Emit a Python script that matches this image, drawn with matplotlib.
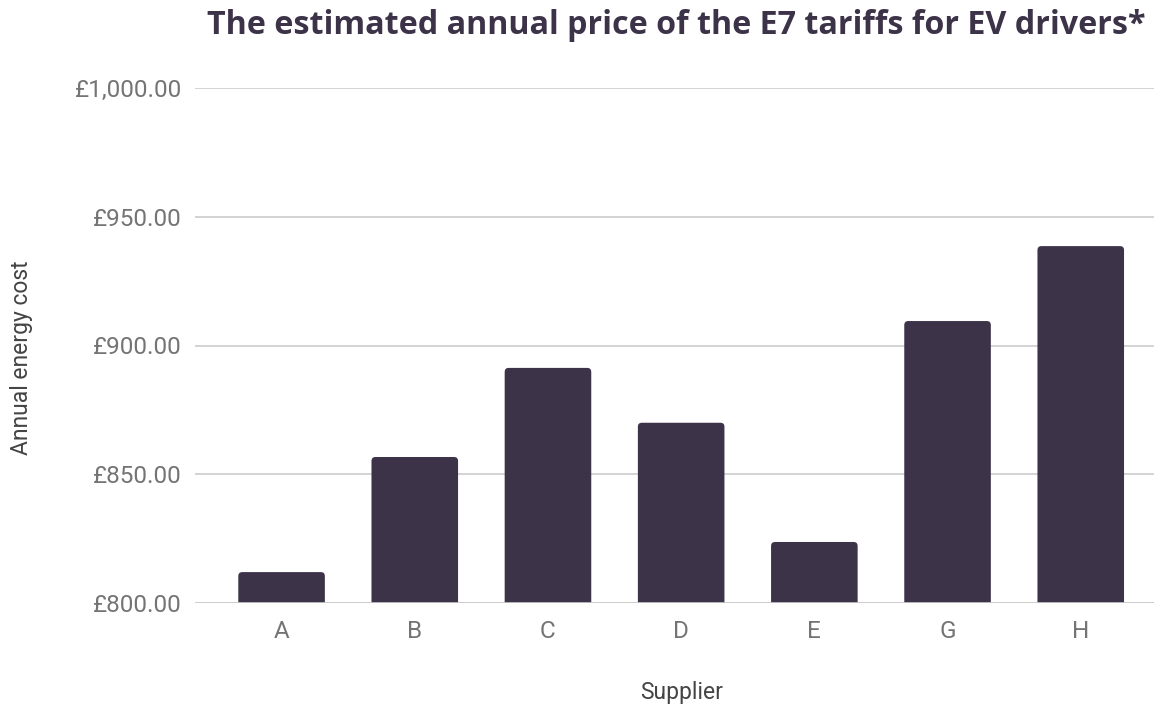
import matplotlib
matplotlib.use("Agg")
import matplotlib.pyplot as plt
from matplotlib.ticker import FuncFormatter
from matplotlib.patches import FancyBboxPatch

suppliers = ["A", "B", "C", "D", "E", "G", "H"]
annual_cost = [812.0, 856.7, 891.3, 870.0, 823.7, 909.5, 938.6]
y_ticks = [800, 850, 900, 950, 1000]

bar_color = "#3d3349"
grid_color = "#cccccc"
text_gray = "#747474"

fig = plt.figure(figsize=(11.54, 7.04), dpi=100)
W, H = 1154, 704
left, right, top, bottom = 195, 1154, 88, 603
ax = fig.add_axes([left / W, 1 - bottom / H, (right - left) / W, (bottom - top) / H])

ymin, ymax = 800, 1000
xmin, xmax = -0.65, 6.55
bars = ax.bar(range(len(suppliers)), annual_cost, width=0.65, color=bar_color, zorder=3)
# replace plain rectangles with top-rounded versions
px_x = (xmax - xmin) / (right - left)
px_y = (ymax - ymin) / (bottom - top)
for b in bars:
    x0, w, h_top = b.get_x(), b.get_width(), b.get_y() + b.get_height()
    b.set_visible(False)
    base = ymin - 20
    p = FancyBboxPatch((x0, base), w, h_top - base,
                       boxstyle=f"round,pad=0,rounding_size={4 * px_x}",
                       mutation_aspect=px_y / px_x,
                       facecolor=bar_color, edgecolor="none", zorder=3)
    ax.add_patch(p)

ax.set_ylim(ymin, ymax)
ax.set_xlim(xmin, xmax)
ax.set_yticks(y_ticks)
ax.yaxis.set_major_formatter(FuncFormatter(lambda v, p: f"£{v:,.2f}"))
ax.set_xticks(range(len(suppliers)))
ax.set_xticklabels(suppliers)

ax.grid(axis="y", color=grid_color, linewidth=1.2, zorder=0)
ax.axhline(ymin, color=grid_color, linewidth=1.2, zorder=4)
for s in ax.spines.values():
    s.set_visible(False)
ax.tick_params(axis="both", length=0, labelsize=17.5, labelcolor=text_gray)
ax.tick_params(axis="x", pad=12)
ax.tick_params(axis="y", pad=9.5)
for lab in ax.get_xticklabels() + ax.get_yticklabels():
    lab.set_fontfamily("Roboto")

fig.text(676 / W, 1 - 26 / H, "The estimated annual price of the E7 tariffs for EV drivers*",
         ha="center", va="center", fontsize=23.2, fontweight="bold",
         fontfamily="Open Sans", color="#3d3349")
fig.text(22 / W, 1 - 358 / H, "Annual energy cost", rotation=90, ha="center", va="center",
         fontsize=16.5, fontfamily="Roboto", color="#444444")
fig.text(682 / W, 1 - 692 / H, "Supplier", ha="center", va="center",
         fontsize=16.5, fontfamily="Roboto", color="#444444")

fig.savefig("out.png", dpi=100)
